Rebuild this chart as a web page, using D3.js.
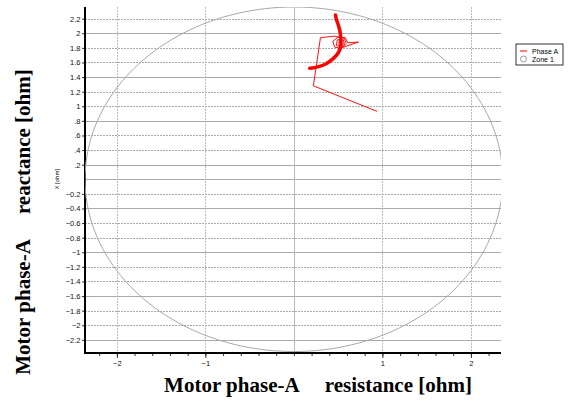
<!DOCTYPE html>
<html>
<head>
<meta charset="utf-8">
<script src="https://cdn.jsdelivr.net/npm/d3@7"></script>
<style>
  body { margin: 0; background: #fff; }
  svg { display: block; }
  .tick text { font-family: "Liberation Sans", Arial, sans-serif; font-size: 7.5px; fill: #111; }
  .big { font-family: "Liberation Serif", "Times New Roman", serif; font-weight: bold; font-size: 21px; white-space: pre; }
</style>
</head>
<body>
<div id="chart"></div>
<script>
// impedance trajectory of phase A, [R, X] in ohm
var transient = [
  [0.94, 0.93], [0.22, 1.28], [0.30, 1.94], [0.46, 1.96], [0.57, 1.93],
  [0.59, 1.86], [0.54, 1.79], [0.46, 1.81], [0.44, 1.89], [0.50, 1.95],
  [0.58, 1.94], [0.61, 1.87], [0.73, 1.88], [0.56, 1.81], [0.48, 1.83],
  [0.49, 1.91], [0.56, 1.91], [0.57, 1.84], [0.51, 1.83], [0.51, 1.89],
  [0.55, 1.87], [0.53, 1.84]
];
var settled = [
  [0.18, 1.52], [0.27, 1.54], [0.36, 1.58], [0.44, 1.65], [0.50, 1.73],
  [0.53, 1.82], [0.53, 1.93], [0.52, 2.03], [0.50, 2.12], [0.48, 2.19], [0.47, 2.25]
];
var zoneRadius = 2.36;   // zone 1 circle, centred on origin
var xTicks = [-2, -1, 1, 2];
var yTicks = [-2.2, -2, -1.8, -1.6, -1.4, -1.2, -1, -0.8, -0.6, -0.4, -0.2,
              0.2, 0.4, 0.6, 0.8, 1, 1.2, 1.4, 1.6, 1.8, 2, 2.2];
var legendItems = ["Phase A", "Zone 1"];

var W = 568, H = 402;
var margin = { top: 7, right: 67, bottom: 49, left: 85 };
var width = W - margin.left - margin.right,
    height = H - margin.top - margin.bottom;

var x = d3.scaleLinear().domain([-2.36, 2.34]).range([0, width]);
var y = d3.scaleLinear().domain([-2.38, 2.36]).range([height, 0]);

var svg = d3.select("#chart").append("svg")
    .attr("width", W).attr("height", H);

var g = svg.append("g")
    .attr("transform", "translate(" + margin.left + "," + margin.top + ")");

g.append("clipPath").attr("id", "clip")
  .append("rect").attr("width", width).attr("height", height);

// grid
var gridY = d3.range(-11, 12).map(function (i) { return i * 0.2; });
g.append("g").selectAll("line")
    .data(gridY)
    .enter().append("line")
    .attr("x1", 0).attr("x2", width)
    .attr("y1", function (d) { return Math.round(y(d)) + 0.5; })
    .attr("y2", function (d) { return Math.round(y(d)) + 0.5; })
    .attr("stroke", "#aaa")
    .attr("stroke-dasharray", function (d, i) { return Math.abs(d) < 1e-9 || i % 3 == 0 ? null : "2,1"; });

g.append("g").selectAll("line")
    .data([-2, -1, 0, 1, 2])
    .enter().append("line")
    .attr("y1", 0).attr("y2", height)
    .attr("x1", function (d) { return Math.round(x(d)) + 0.5; })
    .attr("x2", function (d) { return Math.round(x(d)) + 0.5; })
    .attr("stroke", "#bbb")
    .attr("stroke-dasharray", function (d) { return d == 0 ? null : "2,1"; });

// axes
var xAxisMinor = d3.axisBottom(x).tickValues(d3.range(-11, 12).map(function (i) { return i * 0.2; }))
    .tickSize(3).tickFormat("");
var xAxis = d3.axisBottom(x).tickValues(xTicks).tickSize(5).tickPadding(3)
    .tickFormat(d3.format("d"));
var yAxis = d3.axisLeft(y).tickValues(yTicks).tickSize(3).tickPadding(1.5)
    .tickFormat(function (d) { return d3.format(".1~f")(d).replace(/^(-?)0\./, "$1."); });

var gx = g.append("g").attr("transform", "translate(0," + height + ")");
gx.append("g").call(xAxisMinor);
gx.append("g").call(xAxis);
gx.selectAll(".domain").remove();
gx.selectAll("line").attr("stroke", "#333");

var gy = g.append("g").call(yAxis);
gy.select(".domain").remove();
gy.selectAll("line").attr("stroke", "#333");

g.append("line").attr("x1", 0).attr("x2", 0).attr("y1", 0).attr("y2", height + 1)
    .attr("stroke", "#000").attr("stroke-width", 2);
g.append("line").attr("x1", -1).attr("x2", width).attr("y1", height).attr("y2", height)
    .attr("stroke", "#000").attr("stroke-width", 2);

// zone 1 circle
var circ = d3.range(0, 361, 2).map(function (a) {
  var t = a * Math.PI / 180;
  return [zoneRadius * Math.cos(t), zoneRadius * Math.sin(t)];
});
var line = d3.line().x(function (d) { return x(d[0]); }).y(function (d) { return y(d[1]); });

g.append("path").datum(circ)
    .attr("clip-path", "url(#clip)")
    .attr("d", line)
    .attr("fill", "none").attr("stroke", "#a8a8a8").attr("stroke-width", 1);

// phase A trajectory
g.append("path").datum(transient)
    .attr("d", line)
    .attr("fill", "none").attr("stroke", "#ff1010").attr("stroke-width", 1);
g.append("path").datum(settled)
    .attr("d", d3.line().curve(d3.curveCatmullRom).x(function (d) { return x(d[0]); }).y(function (d) { return y(d[1]); }))
    .attr("fill", "none").attr("stroke", "#ff0000").attr("stroke-width", 3.5)
    .attr("stroke-linecap", "round");

// small axis label
svg.append("text")
    .attr("transform", "translate(59," + (margin.top + y(0)) + ") rotate(-90)")
    .attr("text-anchor", "middle")
    .style("font-family", "Liberation Sans, Arial, sans-serif")
    .style("font-size", "6px")
    .text("X [ohm]");

// legend
var lg = svg.append("g").attr("transform", "translate(516,44)");
lg.append("rect").attr("width", 47).attr("height", 21)
    .attr("fill", "#fff").attr("stroke", "#000").attr("stroke-width", 0.8);
lg.append("line").attr("x1", 4).attr("x2", 11).attr("y1", 7).attr("y2", 7)
    .attr("stroke", "red").attr("stroke-width", 1);
lg.append("circle").attr("cx", 7.5).attr("cy", 15).attr("r", 3)
    .attr("fill", "none").attr("stroke", "#999");
lg.selectAll("text").data(legendItems).enter().append("text")
    .attr("x", 16).attr("y", function (d, i) { return 9.5 + i * 8; })
    .style("font-family", "Liberation Sans, Arial, sans-serif")
    .style("font-size", "7px")
    .text(function (d) { return d; });

// big titles
svg.append("text").attr("class", "big")
    .attr("x", 318).attr("y", 392)
    .attr("text-anchor", "middle")
    .text("Motor phase-A     resistance [ohm]");
svg.append("text").attr("class", "big")
    .attr("transform", "translate(30,222) rotate(-90)")
    .attr("text-anchor", "middle")
    .text("Motor phase-A     reactance [ohm]");
</script>
</body>
</html>
